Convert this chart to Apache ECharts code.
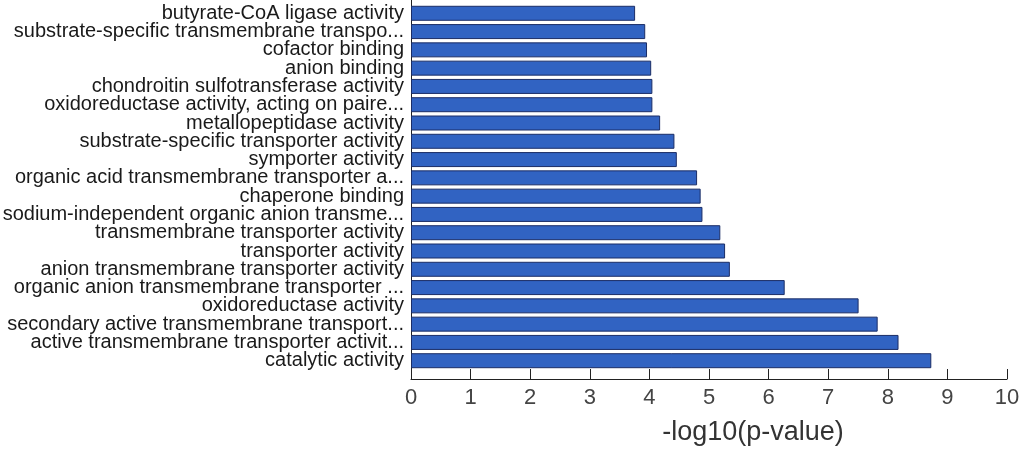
<!DOCTYPE html>
<html>
<head>
<meta charset="utf-8">
<script src="https://cdn.jsdelivr.net/npm/echarts@6/dist/echarts.min.js"></script>
<style>
  html, body { margin: 0; padding: 0; background: #fff; overflow: hidden; }
  /* the original figure is cropped a few pixels into its top axis limit */
  #chart { position: relative; top: -5px; width: 1030px; height: 454px; }
</style>
</head>
<body>
<div id="chart"></div>
<script>
// GO terms, top to bottom as drawn
var terms = [
  'butyrate-CoA ligase activity',
  'substrate-specific transmembrane transpo...',
  'cofactor binding',
  'anion binding',
  'chondroitin sulfotransferase activity',
  'oxidoreductase activity, acting on paire...',
  'metallopeptidase activity',
  'substrate-specific transporter activity',
  'symporter activity',
  'organic acid transmembrane transporter a...',
  'chaperone binding',
  'sodium-independent organic anion transme...',
  'transmembrane transporter activity',
  'transporter activity',
  'anion transmembrane transporter activity',
  'organic anion transmembrane transporter ...',
  'oxidoreductase activity',
  'secondary active transmembrane transport...',
  'active transmembrane transporter activit...',
  'catalytic activity'
];

// -log10(p-value) per term
var scores = [
  3.76, 3.93, 3.96, 4.03, 4.05, 4.05, 4.18, 4.42, 4.46, 4.80,
  4.86, 4.89, 5.19, 5.27, 5.35, 6.27, 7.51, 7.83, 8.18, 8.73
];

var xTicks = [0, 1, 2, 3, 4, 5, 6, 7, 8, 9, 10];
var xTitle = '-log10(p-value)';

var font = "'Liberation Sans', Arial, Helvetica, sans-serif";

// empty slots at both ends, like the original axis limits [0, 21]
var yCats = [' '].concat(terms, ['']);

var barData = [];
for (var i = 0; i < terms.length; i++) {
  barData.push([scores[i], terms[i]]);
}

var myChart = echarts.init(document.getElementById('chart'));
var option = {
  backgroundColor: '#ffffff',
  animation: false,
  grid: {
    left: 411,
    right: 23,
    top: 0,
    bottom: 70,
    containLabel: false,
    outerBoundsMode: 'none'
  },
  xAxis: {
    type: 'value',
    min: xTicks[0],
    max: xTicks[xTicks.length - 1],
    interval: 1,
    name: xTitle,
    nameLocation: 'middle',
    nameGap: 40,
    nameTextStyle: {
      fontFamily: font,
      fontSize: 27,
      color: '#333',
      padding: [0, 0, 0, 88]
    },
    axisLine: { show: true, lineStyle: { color: '#222', width: 1 } },
    axisTick: { show: true, inside: true, length: 10, lineStyle: { color: '#222' } },
    axisLabel: { fontFamily: font, fontSize: 22, color: '#444', margin: 8 },
    splitLine: { show: false }
  },
  yAxis: {
    type: 'category',
    inverse: true,
    boundaryGap: false,
    data: yCats,
    axisLine: { show: true, lineStyle: { color: '#222', width: 1 } },
    axisTick: { show: false },
    axisLabel: {
      fontFamily: font,
      fontSize: 20,
      color: '#1a1a1a',
      margin: 7,
      interval: 0
    },
    splitLine: { show: false }
  },
  series: [
    {
      type: 'bar',
      data: barData,
      barWidth: 15,
      itemStyle: {
        color: '#3163c2',
        borderColor: '#1b2d66',
        borderWidth: 1
      }
    }
  ]
};
myChart.setOption(option);
</script>
</body>
</html>
